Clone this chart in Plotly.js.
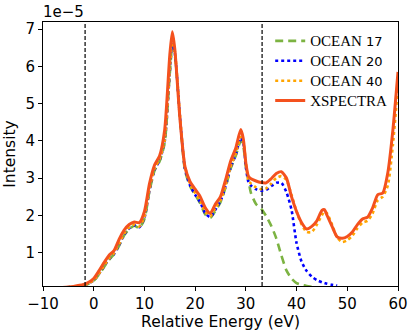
<!DOCTYPE html>
<html>
<head>
<meta charset="utf-8">
<script src="https://cdn.plot.ly/plotly-3.0.1.min.js"></script>
<style>
  html, body { margin: 0; padding: 0; background: #fff; }
  #chart { width: 415px; height: 335px; }
</style>
</head>
<body>
<div id="chart"></div>
<script>
// energy grid shared by the traces (eV)
const energy = [-10, -7, -4, -2, -1, 0, 1, 2, 3, 4, 5, 6, 7, 8, 9, 10, 11, 12, 13, 14, 15, 15.5, 16, 17, 18, 19, 20,
    21, 22, 23, 24, 25, 26, 27, 28, 29, 29.5, 30, 30.5, 31, 32, 33, 34, 35, 36, 37, 38, 39, 40, 41, 42, 43, 44, 45,
    45.5, 46, 47, 48, 49, 50, 51, 52, 53, 54, 55, 56, 57, 58, 59, 60];

// intensities in units of 1e-5
const xspectra = [0.02, 0.05, 0.09, 0.14, 0.2, 0.3, 0.5, 0.72, 0.92, 1.05, 1.35, 1.6, 1.75, 1.82, 1.8, 2.1, 2.85,
    3.35, 3.6, 4.3, 6.3, 6.93, 6.45, 4.6, 3.3, 2.9, 2.7, 2.5, 2.2, 2.05, 2.3, 2.5, 2.95, 3.45, 3.8, 4.3, 4.05, 3.4,
    3.05, 2.98, 2.92, 2.88, 2.87, 2.98, 3.12, 3.17, 3.0, 2.5, 2.1, 1.8, 1.63, 1.7, 1.85, 2.13, 2.15, 2.0, 1.7, 1.42,
    1.38, 1.43, 1.55, 1.75, 1.9, 1.95, 2.2, 2.55, 2.6, 3.15, 4.3, 5.85];

const ocean40 = [0.02, 0.05, 0.08, 0.12, 0.17, 0.25, 0.42, 0.63, 0.83, 0.98, 1.22, 1.5, 1.67, 1.75, 1.7, 1.95, 2.7,
    3.25, 3.5, 4.0, 5.9, 6.65, 6.4, 4.7, 3.3, 2.85, 2.6, 2.4, 2.1, 1.98, 2.2, 2.4, 2.8, 3.3, 3.65, 4.1, 4.0, 3.4,
    2.95, 2.85, 2.75, 2.7, 2.72, 2.85, 3.0, 3.05, 2.95, 2.55, 2.1, 1.75, 1.55, 1.55, 1.75, 2.0, 2.1, 2.05, 1.75, 1.4,
    1.28, 1.33, 1.45, 1.65, 1.8, 1.85, 2.05, 2.4, 2.5, 2.8, 3.9, 5.5];

// OCEAN 20 stops at 48 eV
const ocean20 = [0.02, 0.05, 0.08, 0.12, 0.17, 0.25, 0.42, 0.62, 0.82, 0.96, 1.2, 1.48, 1.65, 1.73, 1.68, 1.93, 2.68,
    3.22, 3.48, 3.98, 5.85, 6.6, 6.35, 4.65, 3.25, 2.8, 2.55, 2.35, 2.05, 1.95, 2.15, 2.38, 2.78, 3.28, 3.62, 4.08,
    3.95, 3.3, 2.9, 2.8, 2.7, 2.66, 2.68, 2.78, 2.87, 2.87, 2.62, 2.15, 1.25, 0.75, 0.5, 0.35, 0.26, 0.2, 0.18, 0.16,
    0.13, 0.11];

// OCEAN 17 stops at 43 eV
const ocean17 = [0.02, 0.05, 0.08, 0.12, 0.16, 0.24, 0.4, 0.6, 0.8, 0.95, 1.18, 1.46, 1.63, 1.72, 1.66, 1.9, 2.65,
    3.2, 3.45, 3.95, 5.8, 6.55, 6.3, 4.6, 3.2, 2.78, 2.55, 2.32, 2.02, 1.93, 2.12, 2.35, 2.75, 3.25, 3.6, 4.0, 3.85,
    3.3, 2.95, 2.6, 2.3, 2.18, 1.98, 1.72, 1.38, 0.92, 0.52, 0.3, 0.18, 0.13, 0.1, 0.08];

const edgeLines = [-1.7, 33.2];
const yTicks = [1, 2, 3, 4, 5, 6, 7];
const xTicks = [-10, 0, 10, 20, 30, 40, 50, 60];

const serif = (t) => `<span style="font-family:'Liberation Serif';font-size:15px">${t}</span>`;

const traces = [
    {
        name: serif('OCEAN') + ' 17',
        x: energy.slice(0, ocean17.length),
        y: ocean17,
        mode: 'lines',
        line: { color: '#7CB342', width: 2.6, dash: '8px,5px', shape: 'spline', smoothing: 0.6 }
    },
    {
        name: serif('OCEAN') + ' 20',
        x: energy.slice(0, ocean20.length),
        y: ocean20,
        mode: 'lines',
        line: { color: '#0000FF', width: 2.6, dash: 'dot', shape: 'spline', smoothing: 0.6 }
    },
    {
        name: serif('OCEAN') + ' 40',
        x: energy,
        y: ocean40,
        mode: 'lines',
        line: { color: '#FFA500', width: 2.6, dash: 'dot', shape: 'spline', smoothing: 0.6 }
    },
    {
        name: serif('XSPECTRA'),
        x: energy,
        y: xspectra,
        mode: 'lines',
        line: { color: '#F4511E', width: 3, shape: 'spline', smoothing: 0.6 }
    }
];

const layout = {
    width: 415,
    height: 335,
    margin: { l: 43, r: 17, t: 22, b: 49 },
    paper_bgcolor: '#fff',
    plot_bgcolor: '#fff',
    font: { family: 'DejaVu Sans', size: 15, color: '#000' },
    showlegend: true,
    legend: {
        x: 0.64, y: 0.985, xanchor: 'left', yanchor: 'top',
        bgcolor: 'rgba(255,255,255,0)',
        font: { family: 'DejaVu Sans', size: 13 }
    },
    xaxis: {
        range: [-10, 60],
        tickvals: xTicks,
        tickfont: { size: 15 },
        ticks: 'outside', ticklen: 4, tickwidth: 1, tickcolor: '#000',
        showgrid: false, zeroline: false,
        showline: true, mirror: true, linecolor: '#000', linewidth: 1,
        title: { text: 'Relative Energy (eV)', font: { size: 15.5 }, standoff: 3 }
    },
    yaxis: {
        range: [0.1, 7.19],
        tickvals: yTicks,
        tickfont: { size: 15 },
        ticks: 'outside', ticklen: 4, tickwidth: 1, tickcolor: '#000',
        showgrid: false, zeroline: false,
        showline: true, mirror: true, linecolor: '#000', linewidth: 1,
        title: { text: 'Intensity', font: { size: 15.5 }, standoff: 6 }
    },
    shapes: edgeLines.map((e) => ({
        type: 'line', xref: 'x', yref: 'paper', x0: e, x1: e, y0: 0, y1: 1,
        line: { color: '#000', width: 1.2, dash: '4px,2px' }
    })),
    annotations: [{
        text: '1e−5', xref: 'paper', yref: 'paper', x: 0, y: 1,
        xanchor: 'left', yanchor: 'bottom', showarrow: false,
        font: { size: 15 }, xshift: -2, yshift: -1
    }]
};

Plotly.newPlot('chart', traces, layout, { displayModeBar: false, staticPlot: true });
</script>
</body>
</html>
